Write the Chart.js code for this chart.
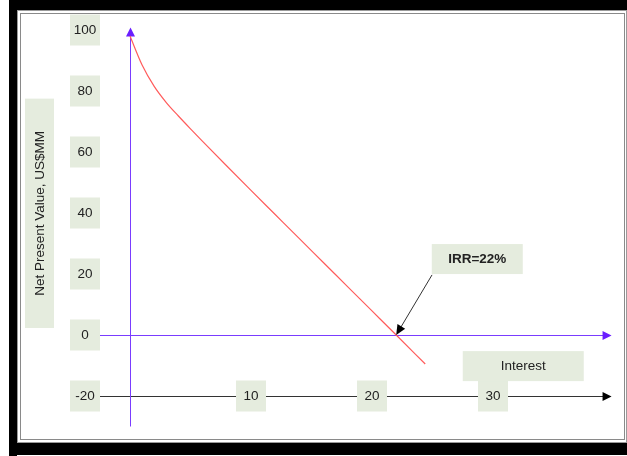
<!DOCTYPE html>
<html>
<head>
<meta charset="utf-8">
<title>Net Present Value vs Interest</title>
<script src="https://cdn.jsdelivr.net/npm/chart.js@4/dist/chart.umd.min.js"></script>
<style>
  html, body { margin: 0; padding: 0; background: #ffffff; }
  #wrap { width: 627px; height: 456px; }
</style>
</head>
<body>
<div id="wrap"><canvas id="npv" width="627" height="456"></canvas></div>
<script>
// Interest rate (%) and the project's NPV (US$MM) at that rate
const interestRates = [0, 1, 2, 3, 4, 5, 6, 8, 10, 12, 14, 16, 18, 20, 22, 24.4];
const npvValues     = [98, 88.5, 81.5, 76.2, 71.8, 67.6, 63.5, 55.4, 47.4, 39.5, 31.6, 23.7, 15.8, 7.9, 0, -9.5];

// Axis tick labels
const yTickLabels = [100, 80, 60, 40, 20, 0, -20];
const xTickLabels = [10, 20, 30];

// Internal rate of return (where NPV crosses zero)
const irrRate = 22;
const irrText = 'IRR=22%';
const xTitle = 'Interest';
const yTitle = 'Net Present Value, US$MM';

// Styling / placement (data units where noted)
const layoutCfg = {
  boxFill: 'rgb(229,236,222)',
  textColor: '#222222',
  font: '13.5px "Liberation Sans", Arial, sans-serif',
  boldFont: 'bold 13.5px "Liberation Sans", Arial, sans-serif',
  purple: '#7a3cff',
  red: '#ff5c5c',
  axisBlack: '#333333',
  yLabelX: 85,          // pixel centre of the y tick label boxes
  tickBox: { w: 30, h: 31 },
  baseValue: -20,       // the black interest axis sits at this NPV level
  axisEndX: 39.8,       // arrow tips on the horizontal axes (interest units)
  vAxisTop: 100.8,      // arrow tip on the vertical axis (NPV units)
  vAxisBottom: -30,
  irrBox: { x: 28.7, y: 24.9, w: 91, h: 30 },
  irrArrowFrom: { x: 24.96, y: 19.7 },
  xTitleBox: { x: 32.5, y: -10.2, w: 121, h: 30 },
  yTitleBox: { left: 25, w: 29, top: 77.5, bottom: 2.3 }
};

function box(ctx, cx, cy, w, h, text, font) {
  ctx.fillStyle = layoutCfg.boxFill;
  ctx.fillRect(cx - w / 2, cy - h / 2, w, h);
  ctx.fillStyle = layoutCfg.textColor;
  ctx.font = font || layoutCfg.font;
  ctx.textAlign = 'center';
  ctx.textBaseline = 'middle';
  ctx.fillText(text, cx, cy + 0.5);
}

function arrowHead(ctx, tipX, tipY, angle, len, half, color) {
  ctx.save();
  ctx.translate(tipX, tipY);
  ctx.rotate(angle);
  ctx.beginPath();
  ctx.moveTo(0, 0);
  ctx.lineTo(-len, -half);
  ctx.lineTo(-len, half);
  ctx.closePath();
  ctx.fillStyle = color;
  ctx.fill();
  ctx.restore();
}

// Page frame
const framePlugin = {
  id: 'frame',
  beforeDraw(chart) {
    const ctx = chart.ctx;
    ctx.save();
    ctx.fillStyle = '#ffffff';
    ctx.fillRect(0, 0, 627, 456);
    ctx.fillStyle = '#000000';
    ctx.fillRect(9, 0, 618, 10);
    ctx.fillRect(9, 0, 8, 456);
    ctx.fillRect(9, 443, 618, 12);
    ctx.lineWidth = 1;
    ctx.strokeStyle = '#9a9a9a';
    ctx.strokeRect(17.5, 10.5, 609, 432);
    ctx.strokeStyle = '#8a8a8a';
    ctx.strokeRect(20.5, 13.5, 604, 426);
    ctx.restore();
  }
};

// Axis lines with arrows, drawn beneath the NPV curve
const axesPlugin = {
  id: 'axesLines',
  beforeDatasetsDraw(chart) {
    const ctx = chart.ctx;
    const xs = chart.scales.x, ys = chart.scales.y;
    const x0 = xs.getPixelForValue(0);
    const y0 = ys.getPixelForValue(0);
    const yb = ys.getPixelForValue(layoutCfg.baseValue);
    const xEnd = xs.getPixelForValue(layoutCfg.axisEndX);
    const startX = layoutCfg.yLabelX + layoutCfg.tickBox.w / 2;
    ctx.save();
    ctx.lineWidth = 1;
    // black interest axis
    ctx.strokeStyle = layoutCfg.axisBlack;
    ctx.beginPath();
    ctx.moveTo(startX, Math.round(yb) + 0.5);
    ctx.lineTo(xEnd - 6, Math.round(yb) + 0.5);
    ctx.stroke();
    arrowHead(ctx, xEnd, Math.round(yb) + 0.5, 0, 9, 4.5, '#000000');
    // purple zero line
    ctx.strokeStyle = layoutCfg.purple;
    ctx.beginPath();
    ctx.moveTo(startX, Math.round(y0) + 0.5);
    ctx.lineTo(xEnd - 6, Math.round(y0) + 0.5);
    ctx.stroke();
    arrowHead(ctx, xEnd, Math.round(y0) + 0.5, 0, 9, 4.5, '#6a1eff');
    // purple vertical NPV axis
    const yTop = ys.getPixelForValue(layoutCfg.vAxisTop);
    const yBot = ys.getPixelForValue(layoutCfg.vAxisBottom);
    ctx.beginPath();
    ctx.moveTo(Math.round(x0) + 0.5, yTop + 6);
    ctx.lineTo(Math.round(x0) + 0.5, yBot);
    ctx.stroke();
    arrowHead(ctx, Math.round(x0) + 0.5, yTop, -Math.PI / 2, 9, 4.5, '#6a1eff');
    ctx.restore();
  }
};

// Tick label boxes, titles and the IRR callout
const labelsPlugin = {
  id: 'labelBoxes',
  afterDatasetsDraw(chart) {
    const ctx = chart.ctx;
    const xs = chart.scales.x, ys = chart.scales.y;
    const tb = layoutCfg.tickBox;
    ctx.save();
    yTickLabels.forEach(v => {
      box(ctx, layoutCfg.yLabelX, ys.getPixelForValue(v), tb.w, tb.h, String(v));
    });
    const yb = ys.getPixelForValue(layoutCfg.baseValue);
    xTickLabels.forEach(v => {
      box(ctx, xs.getPixelForValue(v), yb, tb.w, tb.h, String(v));
    });
    // x title
    const xt = layoutCfg.xTitleBox;
    box(ctx, xs.getPixelForValue(xt.x), ys.getPixelForValue(xt.y), xt.w, xt.h, xTitle);
    // y title (rotated)
    const yt = layoutCfg.yTitleBox;
    const top = ys.getPixelForValue(yt.top), bot = ys.getPixelForValue(yt.bottom);
    ctx.fillStyle = layoutCfg.boxFill;
    ctx.fillRect(yt.left, top, yt.w, bot - top);
    ctx.save();
    ctx.translate(yt.left + yt.w / 2, (top + bot) / 2);
    ctx.rotate(-Math.PI / 2);
    ctx.fillStyle = layoutCfg.textColor;
    ctx.font = layoutCfg.font;
    ctx.textAlign = 'center';
    ctx.textBaseline = 'middle';
    ctx.fillText(yTitle, 0, 0.5);
    ctx.restore();
    // IRR callout
    const ib = layoutCfg.irrBox;
    box(ctx, xs.getPixelForValue(ib.x), ys.getPixelForValue(ib.y), ib.w, ib.h, irrText, layoutCfg.boldFont);
    const fx = xs.getPixelForValue(layoutCfg.irrArrowFrom.x);
    const fy = ys.getPixelForValue(layoutCfg.irrArrowFrom.y);
    const tx = xs.getPixelForValue(irrRate);
    const ty = ys.getPixelForValue(0);
    const ang = Math.atan2(ty - fy, tx - fx);
    ctx.strokeStyle = '#333333';
    ctx.lineWidth = 1;
    ctx.beginPath();
    ctx.moveTo(fx, fy);
    ctx.lineTo(tx - Math.cos(ang) * 6, ty - Math.sin(ang) * 6);
    ctx.stroke();
    arrowHead(ctx, tx, ty, ang, 10, 4.5, '#000000');
    ctx.restore();
  }
};

new Chart(document.getElementById('npv'), {
  type: 'line',
  data: {
    datasets: [{
      label: 'NPV',
      data: interestRates.map((r, i) => ({ x: r, y: npvValues[i] })),
      borderColor: layoutCfg.red,
      borderWidth: 1.2,
      pointRadius: 0,
      fill: false,
      cubicInterpolationMode: 'monotone'
    }]
  },
  options: {
    responsive: false,
    animation: false,
    layout: { padding: { left: 81.6, right: 13, top: 14.75, bottom: 29.5 } },
    scales: {
      x: { type: 'linear', min: -4, max: 40, display: false },
      y: { type: 'linear', min: -30, max: 105, display: false }
    },
    plugins: { legend: { display: false }, tooltip: { enabled: false } }
  },
  plugins: [framePlugin, axesPlugin, labelsPlugin]
});
</script>
</body>
</html>
